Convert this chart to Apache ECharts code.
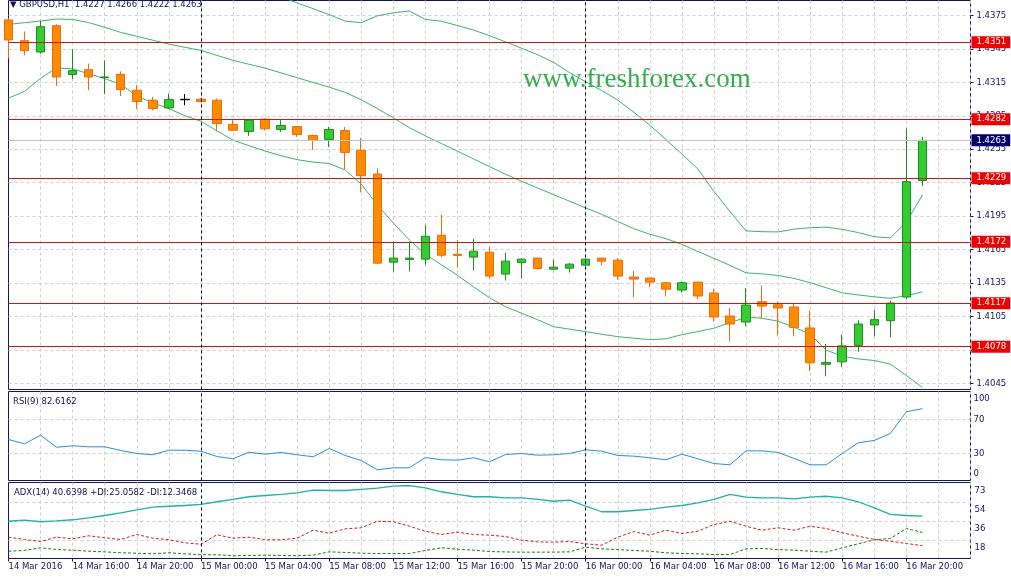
<!DOCTYPE html>
<html>
<head>
<meta charset="utf-8">
<title>GBPUSD,H1</title>
<script src="https://cdn.jsdelivr.net/npm/echarts@6/dist/echarts.min.js"></script>
<style>
  html, body { margin: 0; padding: 0; background: #fff; }
  #chart { width: 1011px; height: 583px; }
</style>
</head>
<body>
<div id="chart"></div>
<script>
// H1 bars, 14 Mar 12:00 .. 16 Mar 21:00 (58 bars)
const opens = [1.43710, 1.43524, 1.43422, 1.43658, 1.43220, 1.43264, 1.43193, 1.43222, 1.43079, 1.42990,
  1.42921, 1.42994, 1.42999, 1.42990, 1.42772, 1.42710, 1.42820, 1.42728, 1.42754, 1.42674,
  1.42638, 1.42719, 1.42540, 1.42328, 1.41538, 1.41561, 1.41565, 1.41779, 1.41609, 1.41583,
  1.41627, 1.41431, 1.41534, 1.41574, 1.41475, 1.41484, 1.41511, 1.41574, 1.41556, 1.41404,
  1.41395, 1.41353, 1.41288, 1.41359, 1.41261, 1.41055, 1.41001, 1.41183, 1.41156, 1.41136,
  1.40948, 1.40622, 1.40644, 1.40792, 1.40975, 1.41013, 1.41225, 1.42270];
const closes = [1.43530, 1.43434, 1.43649, 1.43198, 1.43255, 1.43198, 1.43198, 1.43085, 1.42978, 1.42915,
  1.42996, 1.42998, 1.42978, 1.42781, 1.42721, 1.42810, 1.42733, 1.42763, 1.42683, 1.42630,
  1.42728, 1.42522, 1.42313, 1.41529, 1.41574, 1.41574, 1.41770, 1.41600, 1.41597, 1.41636,
  1.41413, 1.41547, 1.41565, 1.41481, 1.41493, 1.41520, 1.41565, 1.41547, 1.41413, 1.41386,
  1.41359, 1.41296, 1.41353, 1.41234, 1.41046, 1.40983, 1.41153, 1.41144, 1.41127, 1.40953,
  1.40635, 1.40637, 1.40787, 1.40983, 1.41022, 1.41171, 1.42260, 1.42630];
const lows = [1.43365, 1.43392, 1.43407, 1.43118, 1.43180, 1.43079, 1.43046, 1.43028, 1.42909, 1.42900,
  1.42915, 1.42945, 1.42970, 1.42712, 1.42715, 1.42670, 1.42719, 1.42706, 1.42661, 1.42545,
  1.42572, 1.42370, 1.42164, 1.41520, 1.41454, 1.41454, 1.41514, 1.41583, 1.41490, 1.41463,
  1.41391, 1.41373, 1.41391, 1.41472, 1.41469, 1.41445, 1.41508, 1.41508, 1.41380, 1.41225,
  1.41314, 1.41230, 1.41266, 1.41207, 1.41007, 1.40828, 1.40962, 1.41037, 1.40880, 1.40873,
  1.40559, 1.40515, 1.40599, 1.40733, 1.40873, 1.40864, 1.41205, 1.42220];
const highs = [1.43725, 1.43607, 1.43699, 1.43670, 1.43446, 1.43318, 1.43348, 1.43249, 1.43124, 1.43020,
  1.43050, 1.43045, 1.43008, 1.43005, 1.42810, 1.42822, 1.42829, 1.42810, 1.42757, 1.42680,
  1.42750, 1.42750, 1.42653, 1.42379, 1.41722, 1.41722, 1.41872, 1.41961, 1.41737, 1.41746,
  1.41678, 1.41624, 1.41570, 1.41577, 1.41559, 1.41529, 1.41570, 1.41577, 1.41574, 1.41460,
  1.41398, 1.41362, 1.41365, 1.41362, 1.41300, 1.41127, 1.41305, 1.41326, 1.41183, 1.41165,
  1.41105, 1.40805, 1.40888, 1.41016, 1.41111, 1.41192, 1.42736, 1.42660];

// Bollinger bands
const bbUpper = [1.44200, 1.44220, 1.44240, 1.44280, 1.44280, 1.44260, 1.44240, 1.44200, 1.44180, 1.44160,
  1.44140, 1.44120, 1.44100, 1.44080, 1.44050, 1.44010, 1.43970, 1.43920, 1.43862, 1.43811,
  1.43757, 1.43699, 1.43685, 1.43746, 1.43774, 1.43790, 1.43714, 1.43698, 1.43660, 1.43619,
  1.43569, 1.43513, 1.43456, 1.43398, 1.43329, 1.43237, 1.43155, 1.43077, 1.42991, 1.42882,
  1.42766, 1.42638, 1.42507, 1.42373, 1.42172, 1.41991, 1.41818, 1.41811, 1.41809, 1.41834,
  1.41847, 1.41852, 1.41832, 1.41803, 1.41766, 1.41755, 1.41898, 1.42140];
const bbMiddle = [1.43670, 1.43685, 1.43700, 1.43718, 1.43714, 1.43686, 1.43644, 1.43598, 1.43563, 1.43528,
  1.43493, 1.43464, 1.43437, 1.43392, 1.43348, 1.43312, 1.43278, 1.43235, 1.43192, 1.43149,
  1.43107, 1.43060, 1.42994, 1.42915, 1.42832, 1.42744, 1.42670, 1.42602, 1.42533, 1.42464,
  1.42395, 1.42326, 1.42263, 1.42203, 1.42143, 1.42084, 1.42024, 1.41966, 1.41902, 1.41838,
  1.41788, 1.41749, 1.41697, 1.41633, 1.41572, 1.41509, 1.41442, 1.41433, 1.41418, 1.41392,
  1.41354, 1.41308, 1.41263, 1.41244, 1.41227, 1.41214, 1.41237, 1.41272];
const bbLower = [1.43008, 1.43070, 1.43186, 1.43280, 1.43271, 1.43227, 1.43184, 1.43133, 1.43028, 1.42966,
  1.42915, 1.42851, 1.42802, 1.42715, 1.42632, 1.42582, 1.42534, 1.42493, 1.42457, 1.42435,
  1.42422, 1.42364, 1.42238, 1.42051, 1.41889, 1.41737, 1.41608, 1.41514, 1.41420, 1.41317,
  1.41219, 1.41138, 1.41080, 1.41022, 1.40959, 1.40937, 1.40915, 1.40891, 1.40870, 1.40856,
  1.40843, 1.40850, 1.40888, 1.40915, 1.40946, 1.40995, 1.41044, 1.41035, 1.41008, 1.40955,
  1.40892, 1.40749, 1.40695, 1.40670, 1.40656, 1.40624, 1.40521, 1.40414];

// RSI(9)
const rsi = [46.6, 41.6, 51.6, 37.6, 39.3, 38.1, 38.1, 33.8, 30.3, 28.8,
  34.1, 34.1, 33.0, 26.8, 24.1, 31.8, 29.5, 31.5, 28.8, 26.5,
  36.1, 28.0, 22.1, 11.3, 13.6, 13.6, 25.6, 23.0, 22.5, 25.3,
  20.6, 29.1, 30.3, 28.3, 28.8, 30.3, 34.6, 33.0, 28.0, 27.2,
  25.3, 23.0, 29.5, 24.1, 18.6, 17.1, 33.4, 33.4, 31.5, 24.5,
  17.1, 17.1, 30.3, 42.8, 45.5, 53.6, 78.9, 82.6162];

// ADX(14)
const adx = [35.8, 36.8, 35.3, 36.2, 37.2, 39.1, 41.3, 43.9, 46.8, 49.3,
  50.2, 50.9, 51.9, 54.5, 56.7, 59.3, 60.5, 61.5, 63.1, 65.6,
  65.3, 65.3, 66.3, 67.5, 69.5, 70.1, 67.9, 64.1, 61.5, 59.3,
  59.3, 58.3, 58.3, 56.7, 55.0, 56.0, 50.2, 44.9, 44.9, 46.1,
  47.1, 49.3, 50.9, 53.5, 56.7, 61.5, 58.9, 58.3, 58.3, 57.3,
  58.9, 59.8, 58.3, 54.5, 48.7, 42.3, 41.3, 40.6398];
const plusDI = [7.0, 7.7, 10.3, 8.6, 8.0, 7.0, 6.4, 5.5, 5.1, 4.5,
  5.5, 4.5, 3.6, 3.6, 2.6, 2.9, 3.2, 2.9, 2.6, 3.2,
  6.4, 5.8, 5.1, 4.8, 4.8, 4.8, 7.7, 10.3, 8.9, 8.0,
  6.7, 6.3, 6.1, 6.1, 6.1, 6.4, 10.9, 9.3, 8.6, 7.7,
  7.0, 5.5, 4.8, 4.5, 3.8, 3.8, 9.3, 9.6, 8.6, 8.0,
  7.0, 6.1, 10.3, 14.1, 18.0, 19.2, 28.8, 25.0582];
const minusDI = [20.5, 18.3, 16.3, 20.5, 18.9, 21.8, 19.9, 18.3, 23.1, 19.5,
  18.0, 15.1, 13.7, 22.8, 19.5, 20.5, 18.0, 18.0, 19.5, 27.2,
  24.3, 28.5, 29.5, 35.8, 35.3, 31.0, 26.2, 23.1, 25.3, 23.1,
  22.4, 21.1, 17.6, 16.0, 15.7, 16.3, 14.1, 12.8, 20.5, 25.9,
  22.4, 27.2, 24.0, 26.2, 32.7, 35.8, 31.0, 27.2, 29.5, 27.2,
  31.0, 28.8, 24.7, 21.4, 18.3, 16.6, 14.4, 12.3468];

const levels = [1.4351, 1.4282, 1.4229, 1.4172, 1.4117, 1.4078];
const bid = 1.4263;
const priceTicks = [1.4045, 1.4075, 1.4105, 1.4135, 1.4165, 1.4195, 1.4225, 1.4255, 1.4285, 1.4315, 1.4345, 1.4375];
const rsiTicks = [0, 30, 70, 100];
const rsiLevels = [30, 70];
const adxTicks = [0, 18, 36, 54, 73];
const adxGrid = [18, 36, 54];
const xTickLabels = ['14 Mar 2016', '14 Mar 16:00', '14 Mar 20:00', '15 Mar 00:00', '15 Mar 04:00',
  '15 Mar 08:00', '15 Mar 12:00', '15 Mar 16:00', '15 Mar 20:00', '16 Mar 00:00', '16 Mar 04:00',
  '16 Mar 08:00', '16 Mar 12:00', '16 Mar 16:00', '16 Mar 20:00'];
const separators = ['15 Mar 00:00', '16 Mar 00:00'];

// hourly slots, a few empty ones after the last bar
const hours = [];
for (let i = 0; i < 61; i++) {
  const h = 12 + i;
  hours.push((14 + Math.floor(h / 24)) + ' Mar ' + String(h % 24).padStart(2, '0') + ':00');
}

const FONT = '"DejaVu Sans", Tahoma, sans-serif';
const NAVY = '#13135e';
const GRAY = '#cfcfcf';
const RED = '#cc1515';

const candles = opens.map((o, i) => {
  const item = { value: [o, closes[i], lows[i], highs[i]] };
  // mouse cross-hair sits on this bar in the screenshot
  if (i === 11) item.itemStyle = { color: '#000', color0: '#000', borderColor: '#000', borderColor0: '#000' };
  return item;
});

const sepLines = separators.map(s => ({
  xAxis: s,
  lineStyle: { color: '#000033', type: [3, 3], width: 1 },
  label: { show: false }
}));

function xAxisFor(i, withLabels) {
  return {
    type: 'category', gridIndex: i, data: hours, boundaryGap: false,
    axisLine: { show: false },
    axisTick: {
      show: withLabels, length: 3,
      interval: idx => idx % 4 === 0 && idx <= 56,
      lineStyle: { color: NAVY }
    },
    axisLabel: {
      show: withLabels, margin: 4, align: 'left',
      interval: idx => idx % 4 === 0 && idx <= 56,
      formatter: (v, idx) => xTickLabels[idx / 4] || '',
      color: NAVY, fontFamily: FONT, fontSize: 8.5
    },
    splitLine: {
      show: true,
      interval: idx => idx % 2 === 0 && idx > 0,
      lineStyle: { color: GRAY, type: [3, 3] }
    }
  };
}

const labelRich = {
  d: { padding: [16, 0, 0, 0], fontFamily: FONT, fontSize: 8.5, color: NAVY },
  d2: { padding: [10, 0, 0, 0], fontFamily: FONT, fontSize: 8.5, color: NAVY },
  u: { padding: [0, 0, 12, 0], fontFamily: FONT, fontSize: 8.5, color: NAVY }
};

function priceBox(bg) {
  return {
    show: true, position: 'end', distance: 1, formatter: p => p.value.toFixed(4),
    backgroundColor: bg, color: '#fff', padding: [2, 4, 1, 5],
    fontFamily: FONT, fontSize: 8.5
  };
}

const chart = echarts.init(document.getElementById('chart'));
chart.setOption({
  animation: false,
  backgroundColor: '#fff',
  title: [
    { text: '▼ GBPUSD,H1  1.4227 1.4266 1.4222 1.4263', left: 10, top: 0, padding: 0,
      textStyle: { fontFamily: FONT, fontSize: 8.5, fontWeight: 'normal', color: '#111150' } },
    { text: 'RSI(9) 82.6162', left: 13, top: 397, padding: 0,
      textStyle: { fontFamily: FONT, fontSize: 8.5, fontWeight: 'normal', color: '#111150' } },
    { text: 'ADX(14) 40.6398 +DI:25.0582 -DI:12.3468', left: 14, top: 488, padding: 0,
      textStyle: { fontFamily: FONT, fontSize: 8.5, fontWeight: 'normal', color: '#111150' } }
  ],
  graphic: [{
    type: 'text', left: 523, top: 66, z: 1,
    style: { text: 'www.freshforex.com', fill: '#35ad4f', font: '27px "Liberation Serif", "Times New Roman", serif' }
  }],
  // half-pixel offsets keep the 1px panel frames crisp
  grid: [
    { left: 8.5, right: 40.5, top: 0.5, height: 389 },
    { left: 8.5, right: 40.5, top: 391.5, height: 89 },
    { left: 8.5, right: 40.5, top: 482.5, height: 76 }
  ].map(g => Object.assign(g, { show: true, borderColor: NAVY, borderWidth: 1, backgroundColor: '#fff', outerBoundsMode: 'none' })),
  xAxis: [xAxisFor(0, false), xAxisFor(1, false), xAxisFor(2, true)],
  yAxis: [
    {
      type: 'value', gridIndex: 0, position: 'right', min: 1.40396, max: 1.43884,
      axisLine: { show: false },
      axisTick: { show: true, length: 3, customValues: priceTicks, lineStyle: { color: NAVY } },
      axisLabel: { customValues: priceTicks, formatter: v => v.toFixed(4), margin: 6,
        color: NAVY, fontFamily: FONT, fontSize: 8.5 },
      splitLine: { show: true, lineStyle: { color: GRAY, type: [3, 3] } }
    },
    {
      type: 'value', gridIndex: 1, position: 'right', min: -1.2, max: 102.6,
      axisLine: { show: false },
      axisTick: { show: false, customValues: rsiLevels },
      axisLabel: {
        customValues: rsiTicks, margin: 3, color: NAVY, fontFamily: FONT, fontSize: 8.5,
        formatter: v => v === 100 ? '{d2|100}' : v === 0 ? '{u|0}' : String(v),
        rich: labelRich
      },
      splitLine: { show: true, lineStyle: { color: GRAY, type: [3, 3] } }
    },
    {
      type: 'value', gridIndex: 2, position: 'right', min: 0, max: 73,
      axisLine: { show: false },
      axisTick: { show: false, customValues: adxGrid },
      axisLabel: {
        customValues: adxTicks, margin: 4, color: NAVY, fontFamily: FONT, fontSize: 8.5,
        hideOverlap: false,
        formatter: v => v === 0 ? '{u|0}' : '{d|' + v + '}',
        rich: labelRich
      },
      splitLine: { show: true, lineStyle: { color: GRAY, type: [3, 3] } }
    }
  ],
  series: [
    {
      name: 'BB upper', type: 'line', xAxisIndex: 0, yAxisIndex: 0, data: bbUpper,
      symbol: 'none', silent: true, z: 3, lineStyle: { color: '#3cb371', width: 1 }
    },
    {
      name: 'BB middle', type: 'line', xAxisIndex: 0, yAxisIndex: 0, data: bbMiddle,
      symbol: 'none', silent: true, z: 3, lineStyle: { color: '#3cb371', width: 1 }
    },
    {
      name: 'BB lower', type: 'line', xAxisIndex: 0, yAxisIndex: 0, data: bbLower,
      symbol: 'none', silent: true, z: 3, lineStyle: { color: '#3cb371', width: 1 }
    },
    {
      name: 'GBPUSD', type: 'candlestick', xAxisIndex: 0, yAxisIndex: 0, data: candles,
      barWidth: 9, z: 4, clip: true,
      itemStyle: {
        color: '#33cc33', color0: '#ff8c00',
        borderColor: '#1f8a1f', borderColor0: '#f06a0a', borderWidth: 1
      },
      markLine: {
        silent: true, symbol: ['none', 'none'], precision: 5,
        data: levels.map(v => ({
          yAxis: v,
          lineStyle: { color: RED, width: 1, type: 'solid' },
          label: priceBox('#ee0000')
        })).concat([{
          yAxis: bid,
          lineStyle: { color: '#c4c4c4', width: 1, type: 'solid' },
          label: priceBox('#00006e')
        }]).concat(sepLines)
      }
    },
    {
      name: 'RSI', type: 'line', xAxisIndex: 1, yAxisIndex: 1, data: rsi,
      symbol: 'none', silent: true, lineStyle: { color: '#2a8fd8', width: 1 },
      markLine: { silent: true, symbol: ['none', 'none'], data: sepLines }
    },
    {
      name: 'ADX', type: 'line', xAxisIndex: 2, yAxisIndex: 2, data: adx,
      symbol: 'none', silent: true, lineStyle: { color: '#22b0a6', width: 1.3 },
      markLine: { silent: true, symbol: ['none', 'none'], data: sepLines }
    },
    {
      name: '+DI', type: 'line', xAxisIndex: 2, yAxisIndex: 2, data: plusDI,
      symbol: 'none', silent: true, lineStyle: { color: '#1b7a1b', width: 1, type: [3, 2] }
    },
    {
      name: '-DI', type: 'line', xAxisIndex: 2, yAxisIndex: 2, data: minusDI,
      symbol: 'none', silent: true, lineStyle: { color: '#cc2020', width: 1, type: [3, 2] }
    }
  ]
});
</script>
</body>
</html>
